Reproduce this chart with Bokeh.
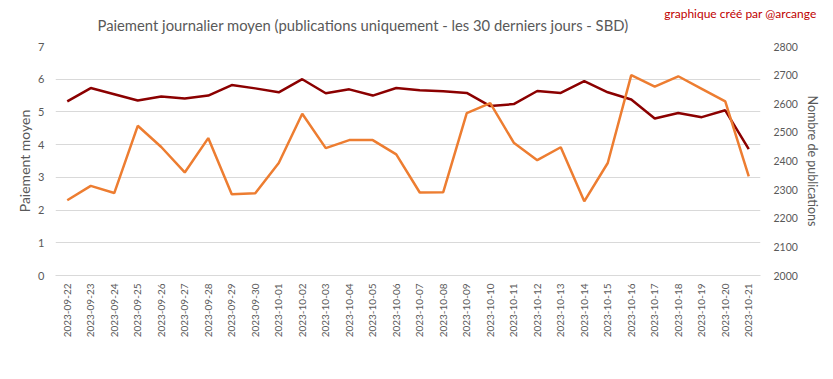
from bokeh.plotting import figure
from bokeh.models import (Range1d, LinearAxis, FixedTicker, Legend, LegendItem,
                          FactorRange, ColumnDataSource, Title)
from bokeh.embed import file_html
from bokeh.resources import INLINE
import math

dates = ["2023-09-22", "2023-09-23", "2023-09-24", "2023-09-25", "2023-09-26",
         "2023-09-27", "2023-09-28", "2023-09-29", "2023-09-30", "2023-10-01",
         "2023-10-02", "2023-10-03", "2023-10-04", "2023-10-05", "2023-10-06",
         "2023-10-07", "2023-10-08", "2023-10-09", "2023-10-10", "2023-10-11",
         "2023-10-12", "2023-10-13", "2023-10-14", "2023-10-15", "2023-10-16",
         "2023-10-17", "2023-10-18", "2023-10-19", "2023-10-20", "2023-10-21"]

paiement_moyen = [5.32, 5.73, 5.54, 5.35, 5.47, 5.41, 5.50, 5.82, 5.72, 5.60,
                  6.00, 5.57, 5.69, 5.50, 5.73, 5.66, 5.63, 5.58, 5.18, 5.24,
                  5.64, 5.58, 5.94, 5.60, 5.38, 4.80, 4.97, 4.84, 5.05, 3.86]

nombre_publications = [2263, 2313, 2288, 2523, 2449, 2360, 2480, 2284, 2287, 2393,
                       2565, 2445, 2473, 2473, 2423, 2290, 2291, 2567, 2602, 2464,
                       2403, 2448, 2259, 2393, 2700, 2660, 2696, 2652, 2608, 2346]

left_ticks = [0, 1, 2, 3, 4, 5, 6, 7]
right_ticks = [2000, 2100, 2200, 2300, 2400, 2500, 2600, 2700, 2800]

title_text = "Paiement journalier moyen (publications uniquement  - les 30 derniers jours - SBD)"
credit_text = "graphique créé par @arcange"
series_names = ["Paiement moyen", "Nombre de publications"]

FONT = "Lato"
GREY = "#595959"
DARK = "#8B0000"
ORANGE = "#ED7D31"

src = ColumnDataSource(dict(d=dates, pm=paiement_moyen, nb=nombre_publications))

p = figure(frame_width=705, frame_height=229, output_backend="svg", toolbar_location=None,
           x_range=FactorRange(factors=dates, range_padding=0),
           y_range=Range1d(0, 7), title=None,
           min_border_left=55, min_border_right=57, min_border_top=46,
           min_border_bottom=96)
p.extra_y_ranges = {"right": Range1d(2000, 2800)}
p.outline_line_color = None
p.background_fill_color = "white"
p.border_fill_color = "white"

# titles (first added sits closest to the frame)
p.add_layout(Title(text=title_text, text_font=FONT, text_font_size="14.8px",
                   text_font_style="normal", text_color=GREY, align="left",
                   offset=42, standoff=26), "above")
p.add_layout(Title(text=credit_text, text_font=FONT, text_font_size="12px",
                   text_font_style="normal", text_color="#C00000", align="right",
                   offset=-56, standoff=-41), "above")

p.xgrid.grid_line_color = None
p.ygrid.grid_line_color = "#d9d9d9"
p.ygrid.grid_line_width = 1

ya = p.yaxis[0]
ya.ticker = FixedTicker(ticks=left_ticks)
ya.axis_line_color = None
ya.major_tick_line_color = None
ya.minor_tick_line_color = None
ya.major_tick_out = 0
ya.major_tick_in = 0
ya.major_label_standoff = 11
ya.major_label_text_font = FONT
ya.major_label_text_font_size = "11px"
ya.major_label_text_color = GREY
ya.axis_label = series_names[0]
ya.axis_label_text_font = FONT
ya.axis_label_text_font_size = "14px"
ya.axis_label_text_font_style = "normal"
ya.axis_label_text_color = GREY
ya.axis_label_standoff = 2

ra = LinearAxis(y_range_name="right", ticker=FixedTicker(ticks=right_ticks))
ra.axis_line_color = None
ra.major_tick_line_color = None
ra.minor_tick_line_color = None
ra.major_tick_out = 0
ra.major_tick_in = 0
ra.major_label_standoff = 13
ra.major_label_text_font = FONT
ra.major_label_text_font_size = "10.5px"
ra.major_label_text_color = GREY
ra.axis_label = series_names[1]
ra.axis_label_text_font = FONT
ra.axis_label_text_font_size = "12.5px"
ra.axis_label_text_font_style = "normal"
ra.axis_label_text_color = GREY
ra.axis_label_standoff = 4
p.add_layout(ra, "right")

xa = p.xaxis[0]
xa.axis_line_color = "#d9d9d9"
xa.major_tick_line_color = None
xa.minor_tick_line_color = None
xa.major_tick_out = 0
xa.major_tick_in = 0
xa.major_label_orientation = math.pi / 2
xa.major_label_standoff = 8
xa.major_label_text_font = FONT
xa.major_label_text_font_size = "10px"
xa.major_label_text_color = GREY

r1 = p.line("d", "pm", source=src, line_color=DARK, line_width=2.5)
r2 = p.line("d", "nb", source=src, y_range_name="right", line_color=ORANGE, line_width=2.5)

legend = Legend(items=[LegendItem(label=series_names[0], renderers=[r1]),
                       LegendItem(label=series_names[1], renderers=[r2])],
                orientation="horizontal", location="center",
                label_text_font=FONT, label_text_font_size="11.5px",
                label_text_color=GREY, glyph_width=28, glyph_height=14,
                label_standoff=1, spacing=20, padding=4, margin=0,
                border_line_color=None, background_fill_alpha=0,
                label_height=14)
p.add_layout(legend, "below")

open("out.html", "w").write(file_html(p, INLINE))
